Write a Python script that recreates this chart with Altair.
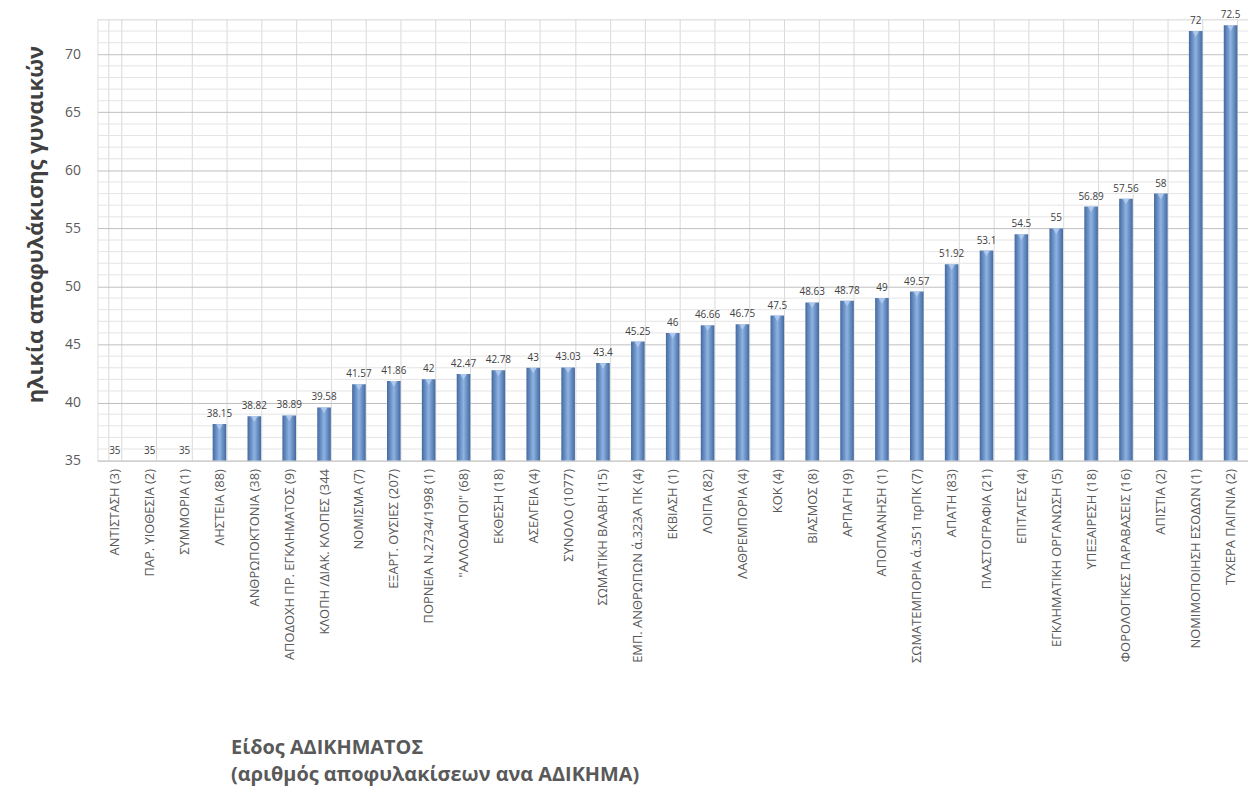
import altair as alt
import pandas as pd

categories = [
    "ΑΝΤΙΣΤΑΣΗ (3)", "ΠΑΡ. ΥΙΟΘΕΣΙΑ (2)", "ΣΥΜΜΟΡΙΑ (1)", "ΛΗΣΤΕΙΑ (88)",
    "ΑΝΘΡΩΠΟΚΤΟΝΙΑ (38)", "ΑΠΟΔΟΧΗ ΠΡ. ΕΓΚΛΗΜΑΤΟΣ (9)", "ΚΛΟΠΗ /ΔΙΑΚ. ΚΛΟΠΕΣ (344",
    "ΝΟΜΙΣΜΑ (7)", "ΕΞΑΡΤ. ΟΥΣΙΕΣ  (207)", "ΠΟΡΝΕΙΑ Ν.2734/1998 (1)",
    "\"ΑΛΛΟΔΑΠΟΙ\" (68)", "ΕΚΘΕΣΗ (18)", "ΑΣΕΛΓΕΙΑ (4)", "ΣΥΝΟΛΟ (1077)",
    "ΣΩΜΑΤΙΚΗ ΒΛΑΒΗ  (15)", "ΕΜΠ. ΑΝΘΡΩΠΩΝ ά.323Α ΠΚ (4)", "ΕΚΒΙΑΣΗ (1)",
    "ΛΟΙΠΑ (82)", "ΛΑΘΡΕΜΠΟΡΙΑ (4)", "ΚΟΚ (4)", "ΒΙΑΣΜΟΣ  (8)", "ΑΡΠΑΓΗ (9)",
    "ΑΠΟΠΛΑΝΗΣΗ (1)", "ΣΩΜΑΤΕΜΠΟΡΙΑ ά.351 πρΠΚ (7)", "ΑΠΑΤΗ (83)",
    "ΠΛΑΣΤΟΓΡΑΦΙΑ (21)", "ΕΠΙΤΑΓΕΣ (4)", "ΕΓΚΛΗΜΑΤΙΚΗ ΟΡΓΑΝΩΣΗ (5)",
    "ΥΠΕΞΑΙΡΕΣΗ  (18)", "ΦΟΡΟΛΟΓΙΚΕΣ ΠΑΡΑΒΑΣΕΙΣ (16)", "ΑΠΙΣΤΙΑ (2)",
    "ΝΟΜΙΜΟΠΟΙΗΣΗ ΕΣΟΔΩΝ (1)", "ΤΥΧΕΡΑ ΠΑΙΓΝΙΑ (2)",
]
ages = [
    35, 35, 35, 38.15, 38.82, 38.89, 39.58, 41.57, 41.86, 42, 42.47, 42.78, 43,
    43.03, 43.4, 45.25, 46, 46.66, 46.75, 47.5, 48.63, 48.78, 49, 49.57, 51.92,
    53.1, 54.5, 55, 56.89, 57.56, 58, 72, 72.5,
]
major_ticks = [35, 40, 45, 50, 55, 60, 65, 70]
minor_ticks = [36, 37, 38, 39, 41, 42, 43, 44, 46, 47, 48, 49, 51, 52, 53, 54,
               56, 57, 58, 59, 61, 62, 63, 64, 66, 67, 68, 69, 71, 72, 73]

y_title = "ηλικία αποφυλάκισης γυναικών"
x_title = ["Είδος ΑΔΙΚΗΜΑΤΟΣ", "(αριθμός αποφυλακίσεων ανα ΑΔΙΚΗΜΑ)"]

df = pd.DataFrame({"cat": categories, "age": ages})
df_minor = pd.DataFrame({"v": minor_ticks})

FONT = "Open Sans"
yscale = alt.Scale(domain=[35, 73], zero=False, nice=False)
xscale = alt.Scale(paddingInner=0.61, paddingOuter=0.305)

x_axis = alt.Axis(
    title=x_title, labelAngle=270, labelFontSize=13, labelColor="#595959",
    labelFont=FONT, labelPadding=8, labelLimit=300, ticks=False, domain=False,
    grid=True, tickBand="extent", gridColor="#d9d9d9",
    titleFont=FONT, titleFontSize=20, titleFontWeight=700, titleColor="#595959",
    titleAnchor="start", titleAlign="left", titleBaseline="top",
    titleX=134, titleY=279, titleLineHeight=27,
)
y_axis = alt.Axis(
    title=y_title, values=major_ticks, domain=False, ticks=False,
    labelFontSize=14, labelColor="#595959", labelFont=FONT, labelPadding=17,
    gridColor="#bfbfbf",
    titleFont=FONT, titleFontSize=22, titleFontWeight=700,
    titleColor="#404040", titlePadding=17, titleY=206,
)

base = alt.Chart(df)
X = alt.X("cat:N", sort=None, scale=xscale, axis=x_axis)
Y = alt.Y("age:Q", scale=yscale, axis=y_axis)

minor = alt.Chart(df_minor).mark_rule(color="#e4e4e4", strokeWidth=1).encode(
    y=alt.Y("v:Q", scale=yscale, axis=y_axis)
)

bar_fill = alt.Gradient(
    gradient="linear",
    stops=[
        alt.GradientStop(color="#44699f", offset=0),
        alt.GradientStop(color="#8db2e3", offset=0.5),
        alt.GradientStop(color="#44699f", offset=1),
    ],
    x1=0, x2=1, y1=0, y2=0,
)

bars = base.mark_bar(fill=bar_fill).encode(x=X, y=Y, y2=alt.datum(35))

caps = base.transform_filter("datum.age > 35").mark_point(
    shape="triangle-down", filled=True, color="#b3cbee", size=45, opacity=0.9,
    yOffset=3, strokeWidth=0,
).encode(x=X, y=Y)

labels = base.mark_text(
    baseline="bottom", dy=-5, fontSize=10, color="#404040", font=FONT
).encode(x=X, y=Y, text=alt.Text("age:Q"))

chart = alt.layer(minor, bars, caps, labels).properties(
    width=1158, height=444,
    autosize=alt.AutoSizeParams(type="none"),
    padding={"left": 90, "top": 9, "right": 0, "bottom": 332},
).configure_view(stroke=None).configure(font=FONT)

chart.save("out.html", embed_options={"renderer": "svg", "actions": False})
